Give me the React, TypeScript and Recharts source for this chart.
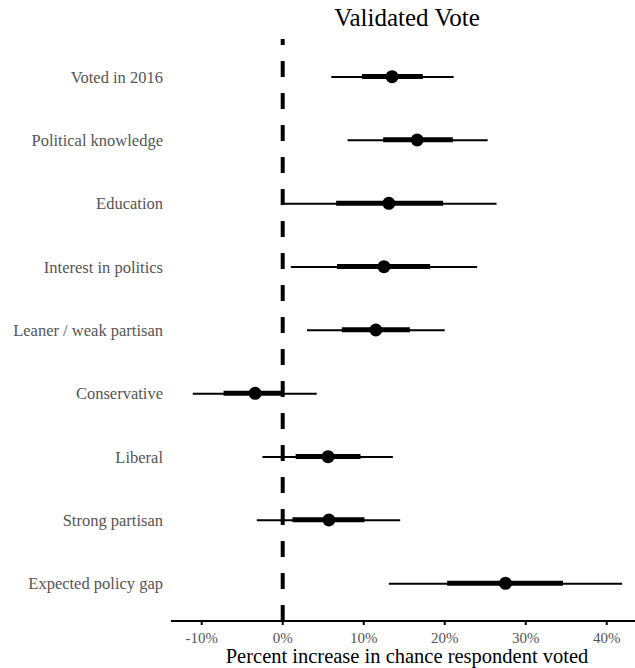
import React from 'react';
import { ComposedChart, Bar, Line, XAxis, YAxis, ReferenceLine } from 'recharts';

const labels = [
  'Voted in 2016',
  'Political knowledge',
  'Education',
  'Interest in politics',
  'Leaner / weak partisan',
  'Conservative',
  'Liberal',
  'Strong partisan',
  'Expected policy gap',
];
const estimate = [13.5, 16.6, 13.1, 12.5, 11.5, -3.4, 5.6, 5.7, 27.5];
const lowOuter = [6.0, 8.0, 0.1, 1.0, 3.0, -11.1, -2.5, -3.2, 13.1];
const highOuter = [21.1, 25.3, 26.4, 24.0, 20.0, 4.2, 13.6, 14.5, 41.9];
const lowInner = [9.8, 12.4, 6.6, 6.7, 7.3, -7.3, 1.6, 1.2, 20.3];
const highInner = [17.3, 21.0, 19.8, 18.2, 15.7, 0.1, 9.6, 10.1, 34.6];
const xTicks = [-10, 0, 10, 20, 30, 40];

const data = labels.map((name, i) => ({
  name,
  est: estimate[i],
  outer: [lowOuter[i], highOuter[i]],
  inner: [lowInner[i], highInner[i]],
}));

const App: React.FC = () => {
  return (
    <div style={{ position: 'absolute', left: 0, top: 0, width: 635, height: 668, fontFamily: '"Liberation Serif", serif', background: '#fff' }}>
      <div style={{ position: 'absolute', left: 175, width: 464, top: 5, textAlign: 'center', fontSize: 25, lineHeight: '25px', color: '#000' }}>
        Validated Vote
      </div>
      <ComposedChart
        width={635}
        height={668}
        data={data}
        layout="vertical"
        margin={{ top: 39, right: 0, bottom: 0, left: 0 }}
      >
        <XAxis
          type="number"
          domain={[-13.79, 43.49]}
          allowDataOverflow
          ticks={xTicks}
          tickFormatter={(v: number) => `${v}%`}
          height={47}
          axisLine={{ stroke: '#000', strokeWidth: 2 }}
          tickLine={{ stroke: '#000', strokeWidth: 2 }}
          tickSize={4}
          tickMargin={7}
          tick={{ fill: '#555', fontSize: 15 }}
          label={{ value: 'Percent increase in chance respondent voted', position: 'insideBottom', offset: 5, fill: '#000', fontSize: 20.5, dx: 4 }}
        />
        <YAxis
          yAxisId="a"
          type="category"
          dataKey="name"
          width={171}
          axisLine={false}
          tickLine={false}
          padding={{ top: 6, bottom: 6 }}
          tick={{ fill: '#555', fontSize: 16.5 }}
        />
        <YAxis yAxisId="b" type="category" dataKey="name" hide padding={{ top: 6, bottom: 6 }} />
        <ReferenceLine yAxisId="a" x={0} stroke="#000" strokeWidth={4} strokeDasharray="16 16" />
        <Bar yAxisId="a" dataKey="outer" barSize={2} fill="#000" isAnimationActive={false} />
        <Bar yAxisId="b" dataKey="inner" barSize={5} fill="#000" isAnimationActive={false} />
        <Line
          yAxisId="a"
          dataKey="est"
          stroke="none"
          dot={{ r: 6.5, fill: '#000', stroke: 'none' }}
          activeDot={false}
          isAnimationActive={false}
        />
      </ComposedChart>
    </div>
  );
};

export default App;
